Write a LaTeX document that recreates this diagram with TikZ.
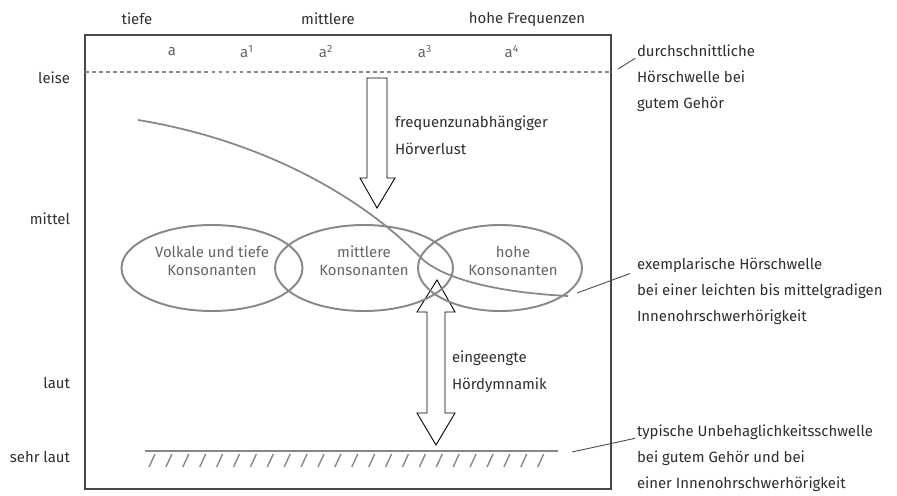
\documentclass[tikz,border=0pt]{standalone}
\usepackage{fontspec}
\setmainfont{Fira Sans}
\usetikzlibrary{shapes.geometric}
\definecolor{framegray}{HTML}{484848}
\definecolor{linegray}{HTML}{888888}
\definecolor{txtgray}{HTML}{2E2E2E}
\definecolor{softgray}{HTML}{646464}

\begin{document}
\begin{tikzpicture}[x=0.02cm, y=-0.02cm,
		every node/.style={font=\fontsize{8.5}{14.7}\selectfont, text=txtgray, inner sep=0pt, outer sep=0pt},
		zone/.style={ellipse, draw=linegray, line width=1.1pt, minimum height=1.72cm},
		zonetext/.style={text=softgray, align=center, font=\fontsize{8.5}{10.5}\selectfont},
		hint/.style={align=left, anchor=base west},
		level/.style={anchor=east},
		tone/.style={text=softgray},
		leader/.style={draw=framegray, line width=0.5pt},
		hollow/.style={draw=black, line width=0.5pt, fill=white}]
			\useasboundingbox (0,0) rectangle (897,495);

			% frequency and level labels
			\node (tiefe) at (137,19) {tiefe};
			\node (mittlere) at (328,19) {mittlere};
			\node (hohe) at (527,19) {hohe Frequenzen};
			\node[tone] (a0) at (172,52) {a};
			\node[tone] (a1) at (247,52) {a\textsuperscript{1}};
			\node[tone] (a2) at (326,52) {a\textsuperscript{2}};
			\node[tone] (a3) at (425,52) {a\textsuperscript{3}};
			\node[tone] (a4) at (512,52) {a\textsuperscript{4}};
			\node[level] (leise) at (70,78) {leise};
			\node[level] (mittel) at (70,219) {mittel};
			\node[level] (laut) at (70,383) {laut};
			\node[level] (sehrlaut) at (70,457) {sehr laut};

			\draw[framegray, line width=1.2pt] (85,35) rectangle (611,489);
			\draw[linegray, line width=0.6pt, dash pattern=on 2.2pt off 1.8pt] (85,72) -- (611,72);

			% arrows
			\draw[hollow] (367,78) -- (387,78) -- (387,178) -- (395,178) -- (377,208) -- (360,178) -- (367,178) -- cycle;
			\draw[hollow] (437,280) -- (455,312) -- (445,312) -- (445,413) -- (455,413) -- (436,445)
				-- (417,413) -- (427,413) -- (427,312) -- (417,312) -- cycle;
			\node[hint, font=\fontsize{8.5}{15.3}\selectfont] (verlust) at (395,154) {frequenzunabhängiger\\Hörverlust};
			\node[hint, font=\fontsize{8.5}{15.3}\selectfont] (dynamik) at (452,389) {eingeengte\\Hördymnamik};

			% speech regions
			\node[zone, minimum width=3.62cm] (vokale) at (212,268) {};
			\node[zone, minimum width=3.56cm] (mitte) at (364,268) {};
			\node[zone, minimum width=3.28cm] (hoch) at (500,268) {};
			\node[zonetext] (vokaletxt) at (212,261) {Volkale und tiefe\\Konsonanten};
			\node[zonetext] (mittetxt) at (364,261) {mittlere\\Konsonanten};
			\node[zonetext] (hochtxt) at (513,261) {hohe\\Konsonanten};

			% thresholds
			\draw[linegray, line width=1pt] (138,120) .. controls (260,140) and (360,195) .. (420,257)
				.. controls (440,277) and (490,292) .. (568,296);
			\draw[linegray, line width=1pt] (145,451) -- (558,451);
			\foreach \i in {0,...,23}
				\draw[linegray, line width=0.8pt] ({155+\i*16.9},454) -- ({149+\i*16.9},467);

			% notes (anchored at the last line)
			\node[hint] (normal) at (637,108) {durchschnittliche\\Hörschwelle bei\\gutem Gehör};
			\node[hint] (beispiel) at (637,321) {exemplarische Hörschwelle\\bei einer leichten bis mittelgradigen\\Innenohrschwerhörigkeit};
			\node[hint] (unbehagen) at (637,488) {typische Unbehaglichkeitsschwelle\\bei gutem Gehör und bei\\einer Innenohrschwerhörigkeit};
			\coordinate (pnormal) at (618,69);
			\coordinate (pbeispiel) at (577,293);
			\coordinate (punbehagen) at (572,452);
			\draw[leader] (pnormal) -- ([xshift=-1pt, yshift=28.3pt]normal.base west);
			\draw[leader] (pbeispiel) -- ([xshift=-4pt, yshift=27pt]beispiel.base west);
			\draw[leader] (punbehagen) -- ([xshift=-1pt, yshift=28.3pt]unbehagen.base west);
		\end{tikzpicture}
\end{document}
